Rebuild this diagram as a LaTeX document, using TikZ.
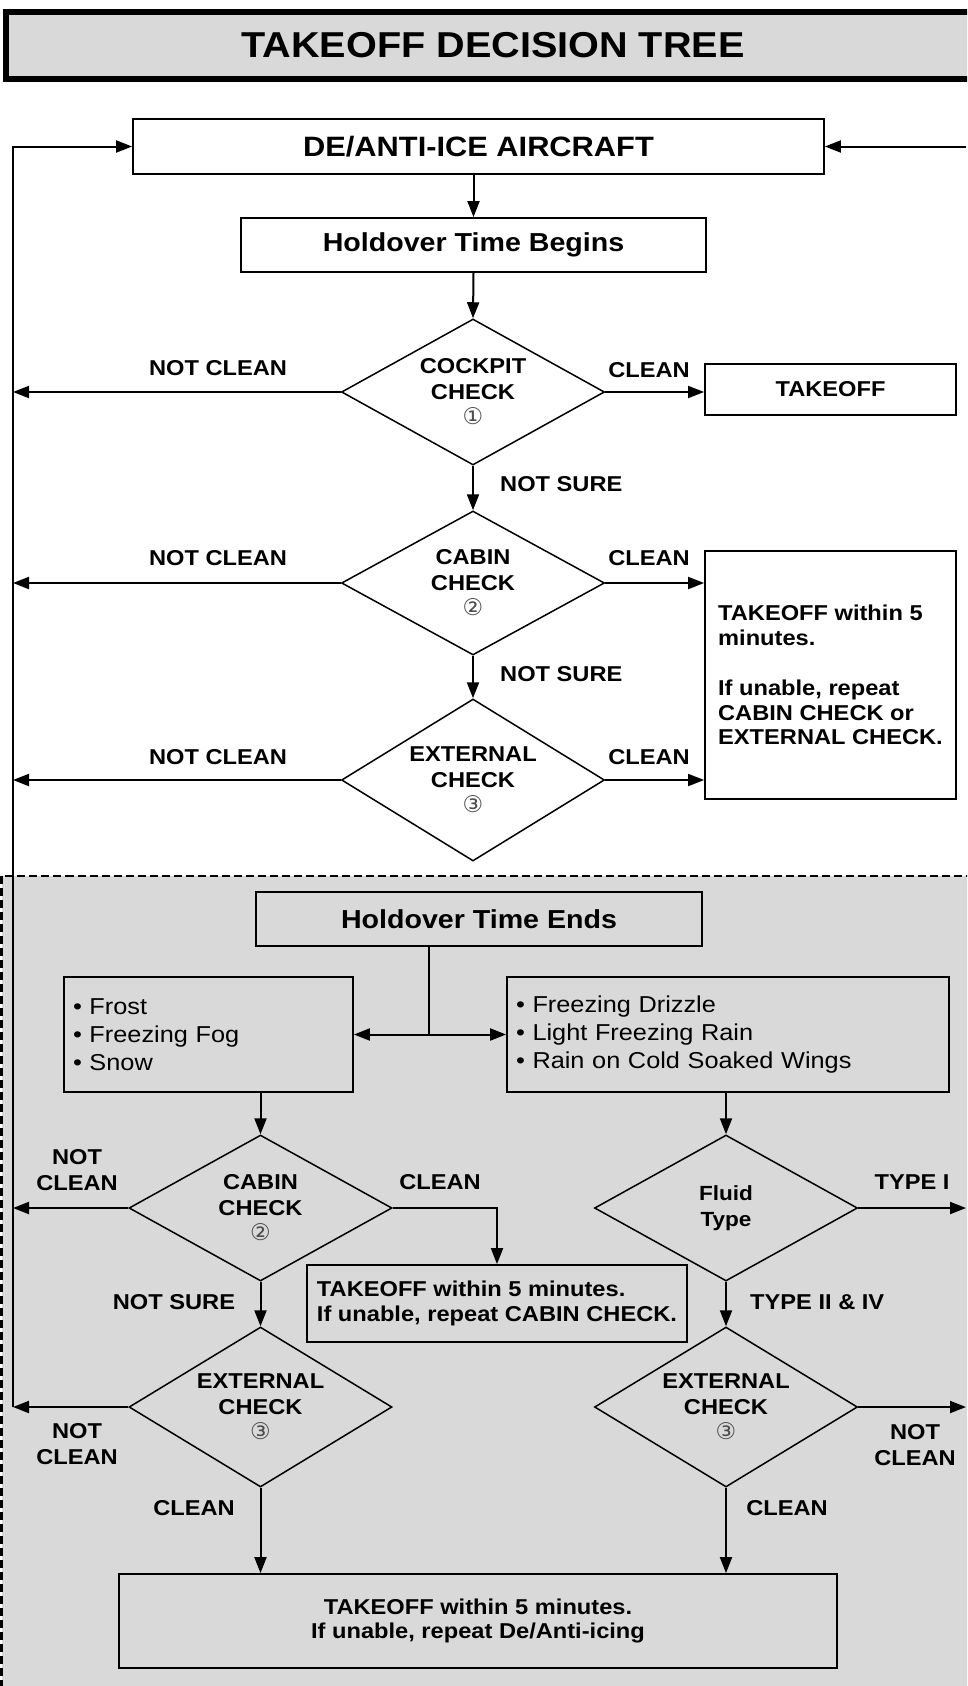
\documentclass[tikz,border=0pt]{standalone}
\usepackage{fontspec}
\setmainfont{Liberation Sans}[FakeStretch=1.1]
\newfontfamily\circfont{DejaVu Sans}
\usetikzlibrary{arrows.meta}
\usetikzlibrary{shapes.geometric}
\definecolor{panel}{HTML}{D9D9D9}
\newcommand{\fsz}[2]{\fontsize{#1}{#2}\selectfont}
\newcommand{\circnum}[1]{{\circfont\mdseries\fsz{23}{25}\color{black!70}#1}}
\newcommand{\tagnode}[3]{\node(#1)[tag] at (#2) {#3}}

\begin{document}
\begin{tikzpicture}[
        x=1pt, y=-1pt,
        >={Triangle[length=16pt,width=12pt]},
        every node/.style={font=\bfseries\fsz{21.5}{25.5}},
        box/.style={rectangle,draw=black,line width=1.8pt,inner sep=0pt},
        decision/.style={diamond,draw=black,line width=1.5pt,inner sep=0pt,
                         aspect=1.8,minimum width=263pt,align=center},
        tag/.style={align=center,inner sep=0pt},
        flow/.style={draw,line width=2pt,->}
      ]
      \useasboundingbox (0,0) rectangle (967,1686);
      \clip (0,0) rectangle (967,1686);

      % holdover-ended panel
      \fill[panel] (1.5,876) rectangle (990,1700);
      \draw[line width=2.5pt,dash pattern=on 8pt off 4pt] (1.5,1700) -- (1.5,876) -- (990,876);

      \node (title) [box,line width=6pt,fill=panel,minimum width=974pt,minimum height=67pt,
                     font=\bfseries\fsz{36}{40}] at (493,45.5) {TAKEOFF DECISION TREE};

      % upper part
      \node (de) [box,minimum width=691pt,minimum height=55pt,font=\bfseries\fsz{28}{32}] at (478.5,146.5) {DE/ANTI-ICE AIRCRAFT};
      \node (begins) [box,minimum width=465pt,minimum height=54pt,font=\bfseries\fsz{26}{30}] at (473.5,245) {Holdover Time Begins};
      \node (cockpit) [decision,minimum height=146pt] at (473,392) {COCKPIT\\CHECK\\\circnum{①}};
      \node (takeoff) [box,minimum width=251pt,minimum height=51pt] at (830.5,389.5) {TAKEOFF};
      \node (cabin) [decision,minimum height=144pt] at (473,583) {CABIN\\CHECK\\\circnum{②}};
      \node (external) [decision,minimum height=162pt] at (473,780) {EXTERNAL\\CHECK\\\circnum{③}};
      \node (within) [box,minimum width=251pt,minimum height=248pt,align=left,font=\bfseries\fsz{21.5}{24.5}] at (830.5,675)
            {TAKEOFF within 5\\minutes.\\[26pt]If unable, repeat\\CABIN CHECK or\\EXTERNAL CHECK.};

      % lower part
      \node (ends) [box,minimum width=446pt,minimum height=54pt,font=\bfseries\fsz{26}{30}] at (479,919) {Holdover Time Ends};
      \node (frost) [box,minimum width=289pt,minimum height=115pt,text width=271pt,align=left,
                     font=\fsz{23}{28}] at (208.5,1034.5) {• Frost\\• Freezing Fog\\• Snow};
      \node (drizzle) [box,minimum width=442pt,minimum height=115pt,text width=424pt,align=left,
                       font=\fsz{23}{28}] at (728,1034.5) {• Freezing Drizzle\\• Light Freezing Rain\\• Rain on Cold Soaked Wings};
      \coordinate (split) at (429,1034.5);
      \node (cabinB) [decision,minimum height=146pt] at (260.5,1208) {CABIN\\CHECK\\\circnum{②}};
      \node (quick) [box,minimum width=380pt,minimum height=77pt,align=left] at (497,1303.5)
            {TAKEOFF within 5 minutes.\\If unable, repeat CABIN CHECK.};
      \node (externalB) [decision,minimum height=160pt] at (260.5,1407) {EXTERNAL\\CHECK\\\circnum{③}};
      \node (fluid) [decision,minimum height=146pt,font=\bfseries\fsz{20.5}{26}] at (726,1208) {Fluid\\Type};
      \node (externalR) [decision,minimum height=160pt] at (726,1407) {EXTERNAL\\CHECK\\\circnum{③}};
      \node (final) [box,minimum width=718pt,minimum height=94pt,align=center,font=\bfseries\fsz{21.5}{24.5}] at (478,1621)
            {TAKEOFF within 5 minutes.\\If unable, repeat De/Anti-icing};

      \coordinate (back) at (13,1407);
      \coordinate (rim) at (966,0);

      % labels
      \tagnode{nc1}{218,368}{NOT CLEAN};
      \tagnode{c1}{649,370}{CLEAN};
      \node (ns1) [tag,anchor=west] at (500,484) {NOT SURE};
      \tagnode{nc2}{218,558}{NOT CLEAN};
      \tagnode{c2}{649,558}{CLEAN};
      \node (ns2) [tag,anchor=west] at (500,674) {NOT SURE};
      \tagnode{nc3}{218,757}{NOT CLEAN};
      \tagnode{c3}{649,757}{CLEAN};
      \tagnode{nc4}{77,1170}{NOT\\CLEAN};
      \tagnode{c4}{440,1182}{CLEAN};
      \tagnode{ns3}{174,1302}{NOT SURE};
      \tagnode{nc5}{77,1444}{NOT\\CLEAN};
      \tagnode{c5}{194,1508}{CLEAN};
      \tagnode{t1}{912,1182}{TYPE I};
      \node (t2) [tag,anchor=west] at (750,1302) {TYPE II \& IV};
      \tagnode{nc6}{915,1445}{NOT\\CLEAN};
      \tagnode{c6}{787,1508}{CLEAN};

      % connectors
      \draw[flow] (de.south -| begins.north) -- (begins.north);
      \draw[flow] (begins.south) -- (cockpit.north);
      \draw[flow] (cockpit.east) -- (cockpit.east -| takeoff.west);
      \draw[flow] (cockpit.west) -- (cockpit.west -| back);
      \draw[flow] (cockpit.south) -- (cabin.north);
      \draw[flow] (cabin.east) -- (cabin.east -| within.west);
      \draw[flow] (cabin.west) -- (cabin.west -| back);
      \draw[flow] (cabin.south) -- (external.north);
      \draw[flow] (external.east) -- (external.east -| within.west);
      \draw[flow] (external.west) -- (external.west -| back);
      \draw[flow] (back) |- (de.west);
      \draw[flow] (de.east -| rim) -- (de.east);

      \draw[line width=2pt] (ends.south -| split) -- (split);
      \draw[flow] (split) -- (split -| frost.east);
      \draw[flow] (split) -- (split -| drizzle.west);
      \draw[flow] (frost.south -| cabinB.north) -- (cabinB.north);
      \draw[flow] (drizzle.south -| fluid.north) -- (fluid.north);
      \draw[flow] (cabinB.west) -- (cabinB.west -| back);
      \draw[flow] (cabinB.east) -| (quick.north);
      \draw[flow] (cabinB.south) -- (externalB.north);
      \draw[flow] (externalB.west) -- (back);
      \draw[flow] (externalB.south) -- (externalB.south |- final.north);
      \draw[flow] (fluid.east) -- (fluid.east -| rim);
      \draw[flow] (fluid.south) -- (externalR.north);
      \draw[flow] (externalR.east) -- (externalR.east -| rim);
      \draw[flow] (externalR.south) -- (externalR.south |- final.north);
    \end{tikzpicture}
\end{document}
